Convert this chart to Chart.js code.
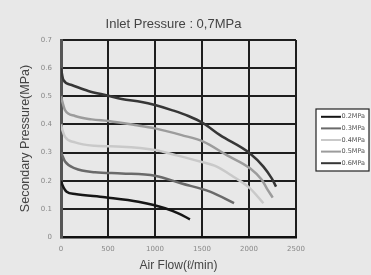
<!DOCTYPE html>
<html><head><meta charset="utf-8">
<script src="https://cdn.jsdelivr.net/npm/chart.js@4/dist/chart.umd.min.js"></script>
<style>html,body{margin:0;padding:0;background:#e8e8e8;}#wrap{width:371px;height:275px;position:relative;}</style>
</head><body><div id="wrap"><canvas id="c"></canvas></div>
<script>
const chartTitle = 'Inlet Pressure : 0,7MPa';
const xAxisTitle = 'Air Flow(\u2113/min)';
const yAxisTitle = 'Secondary Pressure(MPa)';
const seriesNames = ['0.2MPa','0.3MPa','0.4MPa','0.5MPa','0.6MPa'];
const seriesColors = ['#151515','#6a6a6a','#c9c9c9','#9c9c9c','#363636'];
const xTickLabels = ['0','500','1000','1500','2000','2500'];
const yTickLabels = ['0','0.1','0.2','0.3','0.4','0.5','0.6','0.7'];

const flow02  = [0, 15, 60, 149, 468, 823, 1107, 1248, 1372];
const press02 = [0.2, 0.185, 0.161, 0.153, 0.141, 0.125, 0.102, 0.084, 0.063];
const flow03  = [0, 20, 43, 149, 362, 646, 1000, 1284, 1585, 1841];
const press03 = [0.3, 0.285, 0.268, 0.244, 0.23, 0.226, 0.218, 0.19, 0.161, 0.12];
const flow04  = [0, 15, 43, 149, 362, 646, 1000, 1231, 1479, 1657, 1834, 2011, 2153];
const press04 = [0.4, 0.38, 0.356, 0.336, 0.324, 0.321, 0.309, 0.29, 0.268, 0.25, 0.214, 0.173, 0.12];
const flow05  = [0, 15, 43, 149, 327, 503, 787, 1000, 1284, 1514, 1763, 2011, 2136, 2189, 2252];
const press05 = [0.5, 0.48, 0.451, 0.43, 0.418, 0.412, 0.398, 0.386, 0.362, 0.339, 0.291, 0.244, 0.203, 0.173, 0.14];
const flow06  = [0, 10, 25, 113, 290, 503, 646, 858, 1000, 1178, 1355, 1515, 1692, 2011, 2153, 2242, 2288];
const press06 = [0.6, 0.58, 0.558, 0.54, 0.519, 0.502, 0.49, 0.48, 0.469, 0.451, 0.43, 0.404, 0.362, 0.297, 0.25, 0.208, 0.179];

const flows = [flow02, flow03, flow04, flow05, flow06];
const presses = [press02, press03, press04, press05, press06];

const datasets = seriesNames.map((name, i) => ({
  label: name,
  data: flows[i].map((x, j) => ({x: x, y: presses[i][j]})),
  borderColor: seriesColors[i],
  backgroundColor: seriesColors[i],
  borderWidth: 2.5,
  pointRadius: 0,
  tension: 0.35,
  cubicInterpolationMode: 'monotone',
  fill: false
}));

const bgPlugin = {
  id: 'bg',
  beforeDraw(chart) {
    const ctx = chart.ctx;
    ctx.save();
    ctx.fillStyle = '#e8e8e8';
    ctx.fillRect(0, 0, chart.width, chart.height);
    ctx.restore();
  }
};

const boxLegend = {
  id: 'boxLegend',
  afterDraw(chart) {
    const ctx = chart.ctx;
    const left = 316, top = 109, w = 53, rowH = 11.6;
    const ds = chart.data.datasets;
    const h = rowH * ds.length + 4;
    ctx.save();
    ctx.fillStyle = '#ffffff';
    ctx.fillRect(left, top, w, h);
    ctx.strokeStyle = '#222';
    ctx.lineWidth = 1.2;
    ctx.strokeRect(left, top, w, h);
    ctx.font = '6.5px "DejaVu Sans"';
    ctx.textBaseline = 'middle';
    ctx.textAlign = 'left';
    ds.forEach((d, i) => {
      const y = top + 2 + rowH * (i + 0.5);
      ctx.strokeStyle = d.borderColor;
      ctx.lineWidth = 2;
      ctx.beginPath();
      ctx.moveTo(left + 5, y);
      ctx.lineTo(left + 25, y);
      ctx.stroke();
      ctx.fillStyle = '#555';
      ctx.fillText(d.label, left + 25.5, y);
    });
    ctx.restore();
  }
};

new Chart(document.getElementById('c'), {
  type: 'line',
  data: { datasets: datasets },
  plugins: [bgPlugin, boxLegend],
  options: {
    responsive: true,
    maintainAspectRatio: false,
    animation: false,
    layout: { padding: { left: 0, right: 24, top: 0, bottom: 0 } },
    plugins: {
      legend: { display: false },
      tooltip: { enabled: false },
      title: {
        display: true,
        text: chartTitle,
        color: '#444',
        font: { family: '"Liberation Sans", Arial, sans-serif', size: 13, weight: 'normal' },
        padding: { top: 17, bottom: 7.4 }
      }
    },
    scales: {
      x: {
        type: 'linear',
        min: 0, max: 2500,
        afterFit(scale) { scale.height = 38; },
        ticks: {
          stepSize: 500,
          color: '#888',
          padding: 8,
          maxRotation: 0,
          font: { family: '"DejaVu Sans"', size: 7 },
          callback: (v) => { const i = Math.round(v / 500); return xTickLabels[i] !== undefined ? xTickLabels[i] : ''; }
        },
        grid: { color: '#1e1e1e', lineWidth: 2, drawTicks: false },
        border: { color: '#111', width: 2.5 },
        title: {
          display: true,
          text: xAxisTitle,
          color: '#444',
          font: { family: '"Liberation Sans", Arial, sans-serif', size: 12 },
          padding: { top: 0, bottom: 2 }
        }
      },
      y: {
        min: 0, max: 0.7,
        afterFit(scale) { scale.width = 61; },
        ticks: {
          stepSize: 0.1,
          color: '#888',
          padding: 9,
          font: { family: '"DejaVu Sans"', size: 7 },
          callback: (v) => { const i = Math.round(v * 10); return yTickLabels[i] !== undefined ? yTickLabels[i] : ''; }
        },
        grid: { color: '#1e1e1e', lineWidth: 2, drawTicks: false },
        border: { color: '#555', width: 3 },
        title: {
          display: true,
          text: yAxisTitle,
          color: '#444',
          font: { family: '"Liberation Sans", Arial, sans-serif', size: 12.5 },
          padding: { top: 18, bottom: 0 }
        }
      },
      yRight: {
        position: 'right',
        min: 0, max: 0.7,
        afterFit(scale) { scale.width = 51; },
        ticks: { display: false },
        grid: { display: false, drawTicks: false },
        border: { display: false }
      }
    }
  }
});
</script>
</body></html>
